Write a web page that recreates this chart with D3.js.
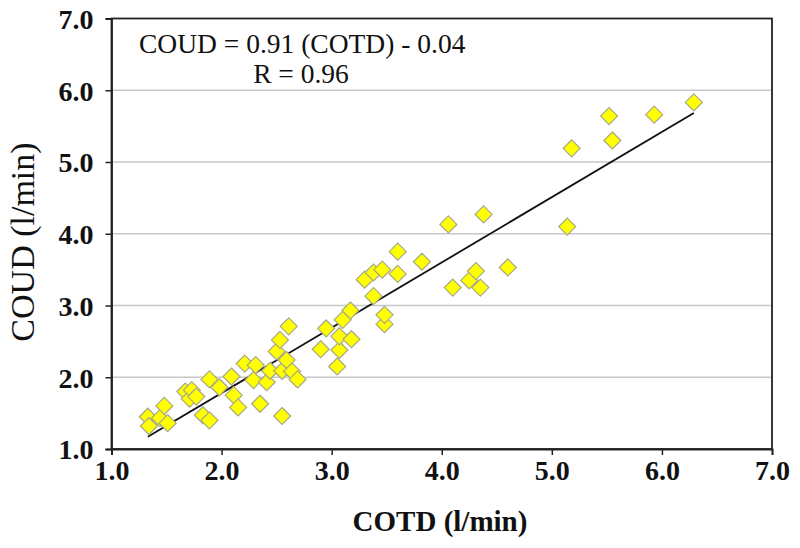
<!DOCTYPE html>
<html>
<head>
<meta charset="utf-8">
<script src="https://cdn.jsdelivr.net/npm/d3@7"></script>
<style>
  html, body { margin: 0; padding: 0; background: #fff; }
  svg { display: block; }
</style>
</head>
<body>
<svg id="chart" width="800" height="548"></svg>
<script>
// ---- data ----
const cotd = [1.33,1.34,1.44,1.48,1.51,1.67,1.71,1.73,1.77,1.83,1.89,1.89,1.98,2.09,2.11,2.15,2.21,2.29,2.31,2.35,
              2.41,2.44,2.50,2.53,2.55,2.55,2.59,2.61,2.64,2.69,2.90,2.95,3.05,3.07,3.07,3.10,3.17,3.18,3.30,3.38,
              3.38,3.46,3.48,3.48,3.60,3.60,3.82,4.06,4.10,4.25,4.31,4.35,4.38,4.60,5.14,5.18,5.52,5.55,5.93,6.29];
const coud = [1.45,1.32,1.43,1.60,1.36,1.80,1.70,1.82,1.73,1.47,1.40,1.97,1.86,2.01,1.75,1.58,2.19,1.96,2.17,1.63,
              1.93,2.09,2.36,2.52,1.46,2.09,2.24,2.71,2.08,1.97,2.39,2.68,2.15,2.38,2.57,2.80,2.93,2.53,3.36,3.13,
              3.46,3.50,2.74,2.87,3.44,3.75,3.61,4.13,3.25,3.35,3.48,3.25,4.27,3.53,4.10,5.19,5.64,5.30,5.66,5.83];
const xTicks = [1.0, 2.0, 3.0, 4.0, 5.0, 6.0, 7.0];
const yTicks = [1.0, 2.0, 3.0, 4.0, 5.0, 6.0, 7.0];
const fitSlope = 0.91;
const fitIntercept = -0.04;
const equationText = "COUD = 0.91 (COTD) - 0.04";
const rText = "R = 0.96";
const xTitle = "COTD (l/min)";
const yTitle = "COUD (l/min)";

// ---- layout ----
const svg = d3.select("#chart");
const L = 111.5, R = 772, T = 18.5, B = 449;
const x = d3.scaleLinear().domain([1, 7]).range([L, R]);
const y = d3.scaleLinear().domain([1, 7]).range([B, T]);
const serif = "'Liberation Serif', 'Times New Roman', serif";

// gridlines
svg.append("g").selectAll("line").data(yTicks.filter(v => v > 1 && v < 7)).join("line")
  .attr("x1", L).attr("x2", R)
  .attr("y1", d => y(d)).attr("y2", d => y(d))
  .attr("stroke", "#c8c8c8").attr("stroke-width", 1.6);

// frame
svg.append("rect").attr("x", L).attr("y", T).attr("width", R - L).attr("height", B - T)
  .attr("fill", "none").attr("stroke", "#222").attr("stroke-width", 1.8);

// axes
const xAxis = d3.axisBottom(x).tickValues(xTicks).tickFormat(d3.format(".1f")).tickSize(6).tickPadding(5);
const yAxis = d3.axisLeft(y).tickValues(yTicks).tickFormat(d3.format(".1f")).tickSize(6).tickPadding(12);

const gx = svg.append("g").attr("transform", `translate(0,${B})`).call(xAxis);
const gy = svg.append("g").attr("transform", `translate(${L},0)`).call(yAxis);
[gx, gy].forEach(g => {
  g.select(".domain").attr("stroke", "#222").attr("stroke-width", 1.8);
  g.selectAll(".tick line").attr("stroke", "#222").attr("stroke-width", 1.5);
  g.selectAll(".tick text").attr("fill", "#111")
    .style("font-family", serif).style("font-weight", "bold").style("font-size", "28px");
});
gx.selectAll(".tick text").attr("dy", "0.71em");
gy.selectAll(".tick text").attr("dy", "0.35em");

// regression line
const x0 = d3.min(cotd), x1 = d3.max(cotd);
svg.append("line")
  .attr("x1", x(x0)).attr("y1", y(fitSlope * x0 + fitIntercept))
  .attr("x2", x(x1)).attr("y2", y(fitSlope * x1 + fitIntercept))
  .attr("stroke", "#111").attr("stroke-width", 1.8);

// points (diamonds)
const pts = cotd.map((v, i) => ({ cx: v, cy: coud[i] }));
svg.append("g").selectAll("path").data(pts).join("path")
  .attr("transform", d => `translate(${x(d.cx)},${y(d.cy)})`)
  .attr("d", "M0,-8.5L8.5,0L0,8.5L-8.5,0Z")
  .attr("fill", "#ffff00").attr("stroke", "#a8a888").attr("stroke-width", 1.2);

// annotation
svg.append("text").attr("x", 139).attr("y", 52.5).text(equationText)
  .style("font-family", serif).style("font-size", "27.5px").attr("fill", "#111");
svg.append("text").attr("x", 301).attr("y", 83).attr("text-anchor", "middle").text(rText)
  .style("font-family", serif).style("font-size", "27.5px").attr("fill", "#111");

// titles
svg.append("text").attr("x", 440).attr("y", 531).attr("text-anchor", "middle").text(xTitle)
  .style("font-family", serif).style("font-weight", "bold").style("font-size", "29px").attr("fill", "#111");
svg.append("text").attr("transform", `translate(34,242) rotate(-90)`)
  .attr("text-anchor", "middle").text(yTitle)
  .style("font-family", serif).style("font-size", "34px").attr("fill", "#111");
</script>
</body>
</html>
